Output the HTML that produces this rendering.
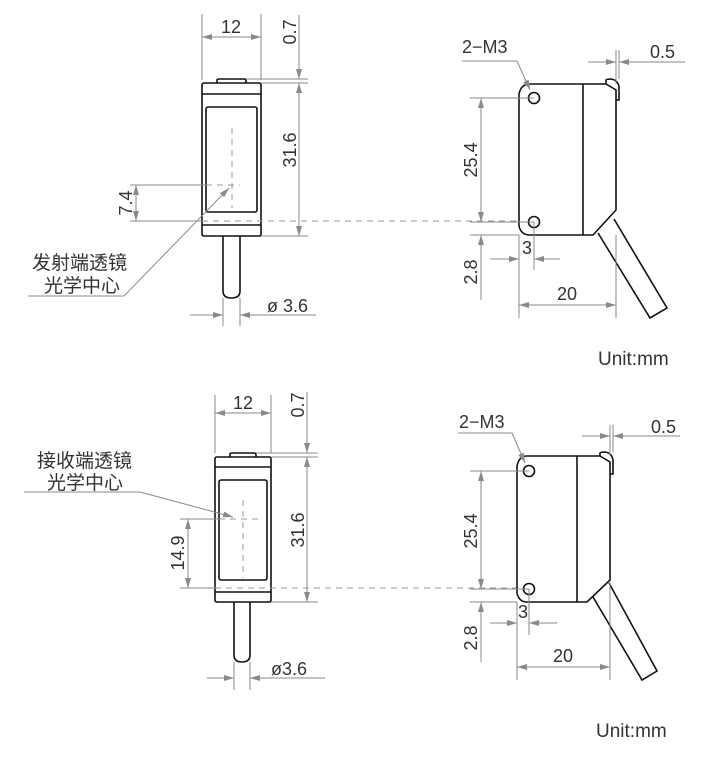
<!DOCTYPE html>
<html><head><meta charset="utf-8"><style>
html,body{margin:0;padding:0;background:#fff}
svg{display:block}
text{font-family:"Liberation Sans","Noto Sans CJK SC",sans-serif;fill:#333;font-size:18px}
.cj{font-size:19px}
.u{font-size:19px}
.d{stroke:#8a8a8a;stroke-width:1;fill:none}
.k{stroke:#111;stroke-width:1.6;fill:none}
.ds{stroke:#999;stroke-width:1;fill:none;stroke-dasharray:6,5}
</style></head><body>
<svg width="723" height="759" viewBox="0 0 723 759" xmlns="http://www.w3.org/2000/svg">
<defs>
<marker id="a" viewBox="0 0 10 6" refX="10" refY="3" markerWidth="10" markerHeight="6" markerUnits="userSpaceOnUse" orient="auto-start-reverse"><path d="M0,0 L10,3 L0,6 Z" fill="#8a8a8a"/></marker>
</defs>

<!-- ========== TOP LEFT ========== -->
<path class="k" d="M204 83 L259 83 Q261 83 261 85 L261 234 Q261 236 259 236 L204 236 Q202 236 202 234 L202 85 Q202 83 204 83 Z"/>
<path class="k" d="M217 83 L217 80 Q217 79 219 79 L244 79 Q246 79 246 81 L246 83"/>
<line class="k" x1="202" y1="94" x2="261" y2="94"/>
<line class="k" x1="202" y1="225" x2="261" y2="225"/>
<rect class="k" x="206" y="107" width="51" height="105" rx="2"/>
<path class="k" d="M223 236 L223 291 Q223 298 231.5 298 Q240 298 240 291 L240 236"/>
<line class="ds" x1="232" y1="128" x2="232" y2="208"/>
<line class="d" x1="130" y1="185" x2="206" y2="185"/>
<line class="ds" x1="206" y1="185" x2="240" y2="185"/>
<line class="d" x1="130" y1="221" x2="202" y2="221"/>
<line class="ds" x1="202" y1="221" x2="520" y2="221"/>
<line class="d" x1="202" y1="14" x2="202" y2="80"/>
<line class="d" x1="261" y1="14" x2="261" y2="80"/>
<line class="d" x1="202" y1="37" x2="261" y2="37" marker-start="url(#a)" marker-end="url(#a)"/>
<text x="231" y="33" text-anchor="middle">12</text>
<line class="d" x1="299" y1="15" x2="299" y2="79" marker-end="url(#a)"/>
<line class="d" x1="299" y1="83" x2="299" y2="236" marker-start="url(#a)" marker-end="url(#a)"/>
<line class="d" x1="246" y1="79" x2="308" y2="79"/>
<line class="d" x1="261" y1="83" x2="308" y2="83"/>
<line class="d" x1="261" y1="236" x2="308" y2="236"/>
<text transform="translate(296,32) rotate(-90)" text-anchor="middle">0.7</text>
<text transform="translate(296,150) rotate(-90)" text-anchor="middle">31.6</text>
<line class="d" x1="136" y1="185" x2="136" y2="221" marker-start="url(#a)" marker-end="url(#a)"/>
<text transform="translate(132,203) rotate(-90)" text-anchor="middle">7.4</text>
<line class="d" x1="28" y1="296" x2="124" y2="296"/>
<line class="d" x1="124" y1="296" x2="229" y2="188" marker-end="url(#a)"/>
<text class="cj" x="32" y="269">发射端透镜</text>
<text class="cj" x="44" y="292">光学中心</text>
<line class="d" x1="223" y1="298" x2="223" y2="326"/>
<line class="d" x1="240" y1="298" x2="240" y2="326"/>
<line class="d" x1="190" y1="315" x2="223" y2="315" marker-end="url(#a)"/>
<line class="d" x1="316" y1="315" x2="240" y2="315" marker-end="url(#a)"/>
<text x="267" y="312">ø 3.6</text>

<!-- ========== TOP RIGHT ========== -->
<path class="k" d="M530 84 L606 84 L616 90 L616 210 L593 235 L530 235 Q521 235 519 226 L519 94 Q521 84 530 84 Z"/>
<path class="k" d="M606 84 L606 80 Q607 79 611 79 Q618 80 619 87 L619 100 L616 100"/>
<line class="k" x1="583" y1="84" x2="583" y2="235"/>
<circle class="k" cx="534" cy="98" r="5.5"/>
<circle class="k" cx="534" cy="222" r="5.5"/>
<path class="k" d="M598 233 L650 318 L667 308 L614 219"/>
<text x="462" y="53">2−M3</text>
<line class="d" x1="462" y1="61" x2="517" y2="61"/>
<line class="d" x1="517" y1="61" x2="530" y2="90" marker-end="url(#a)"/>
<line class="d" x1="616" y1="50" x2="616" y2="84"/>
<line class="d" x1="619" y1="50" x2="619" y2="79"/>
<line class="d" x1="588" y1="62" x2="616" y2="62" marker-end="url(#a)"/>
<line class="d" x1="685" y1="62" x2="619" y2="62" marker-end="url(#a)"/>
<text x="650" y="58">0.5</text>
<line class="d" x1="470" y1="98" x2="534" y2="98"/>
<line class="d" x1="470" y1="222" x2="534" y2="222"/>
<line class="d" x1="481" y1="98" x2="481" y2="222" marker-start="url(#a)" marker-end="url(#a)"/>
<text transform="translate(477,160) rotate(-90)" text-anchor="middle">25.4</text>
<line class="d" x1="470" y1="235" x2="519" y2="235"/>
<line class="d" x1="481" y1="235" x2="481" y2="300" marker-start="url(#a)"/>
<text transform="translate(477,272) rotate(-90)" text-anchor="middle">2.8</text>
<line class="d" x1="534" y1="222" x2="534" y2="270"/>
<line class="d" x1="519" y1="235" x2="519" y2="318"/>
<line class="d" x1="490" y1="259" x2="519" y2="259" marker-end="url(#a)"/>
<line class="d" x1="560" y1="259" x2="534" y2="259" marker-end="url(#a)"/>
<text x="527" y="254" text-anchor="middle">3</text>
<line class="d" x1="616" y1="235" x2="616" y2="318"/>
<line class="d" x1="519" y1="305" x2="616" y2="305" marker-start="url(#a)" marker-end="url(#a)"/>
<text x="567" y="300" text-anchor="middle">20</text>
<text class="u" x="598" y="365">Unit:mm</text>

<!-- ========== BOTTOM LEFT ========== -->
<path class="k" d="M217 457 L269 457 Q271 457 271 459 L271 600 Q271 602 269 602 L217 602 Q215 602 215 600 L215 459 Q215 457 217 457 Z"/>
<path class="k" d="M230 457 L230 454 Q230 453 232 453 L254 453 Q256 453 256 455 L256 457"/>
<line class="k" x1="215" y1="467" x2="271" y2="467"/>
<line class="k" x1="215" y1="592" x2="271" y2="592"/>
<rect class="k" x="219" y="480" width="48" height="100" rx="2"/>
<path class="k" d="M234 602 L234 655 Q234 662 242 662 Q250 662 250 655 L250 602"/>
<line class="ds" x1="243" y1="500" x2="243" y2="578"/>
<line class="d" x1="180" y1="519" x2="219" y2="519"/>
<line class="ds" x1="219" y1="519" x2="260" y2="519"/>
<line class="d" x1="180" y1="588" x2="215" y2="588"/>
<line class="ds" x1="215" y1="588" x2="520" y2="588"/>
<line class="d" x1="215" y1="395" x2="215" y2="453"/>
<line class="d" x1="271" y1="395" x2="271" y2="453"/>
<line class="d" x1="215" y1="413" x2="271" y2="413" marker-start="url(#a)" marker-end="url(#a)"/>
<text x="243" y="409" text-anchor="middle">12</text>
<line class="d" x1="307" y1="392" x2="307" y2="453" marker-end="url(#a)"/>
<line class="d" x1="307" y1="457" x2="307" y2="602" marker-start="url(#a)" marker-end="url(#a)"/>
<line class="d" x1="256" y1="453" x2="318" y2="453"/>
<line class="d" x1="271" y1="457" x2="318" y2="457"/>
<line class="d" x1="271" y1="602" x2="318" y2="602"/>
<text transform="translate(304,405) rotate(-90)" text-anchor="middle">0.7</text>
<text transform="translate(304,530) rotate(-90)" text-anchor="middle">31.6</text>
<line class="d" x1="188" y1="519" x2="188" y2="588" marker-start="url(#a)" marker-end="url(#a)"/>
<text transform="translate(184,553) rotate(-90)" text-anchor="middle">14.9</text>
<text class="cj" x="37" y="467">接收端透镜</text>
<text class="cj" x="47" y="489">光学中心</text>
<line class="d" x1="24" y1="492" x2="140" y2="492"/>
<line class="d" x1="140" y1="492" x2="233" y2="517" marker-end="url(#a)"/>
<line class="d" x1="234" y1="662" x2="234" y2="690"/>
<line class="d" x1="250" y1="662" x2="250" y2="690"/>
<line class="d" x1="207" y1="678" x2="234" y2="678" marker-end="url(#a)"/>
<line class="d" x1="325" y1="678" x2="250" y2="678" marker-end="url(#a)"/>
<text x="271" y="675">ø3.6</text>

<!-- ========== BOTTOM RIGHT ========== -->
<path class="k" d="M527 456 L600 456 L610 462 L610 580 L587 602 L527 602 Q519 602 517 593 L517 466 Q519 456 527 456 Z"/>
<path class="k" d="M600 456 L600 453 Q601 452 605 452 Q612 453 613 460 L613 474 L610 474"/>
<line class="k" x1="577" y1="456" x2="577" y2="602"/>
<circle class="k" cx="529" cy="471" r="5.5"/>
<circle class="k" cx="529" cy="589" r="5.5"/>
<path class="k" d="M593 597 L642 680 L657 671 L609 583"/>
<text x="459" y="428">2−M3</text>
<line class="d" x1="458" y1="433" x2="512" y2="433"/>
<line class="d" x1="512" y1="433" x2="525" y2="463" marker-end="url(#a)"/>
<line class="d" x1="610" y1="425" x2="610" y2="456"/>
<line class="d" x1="613" y1="425" x2="613" y2="452"/>
<line class="d" x1="582" y1="436" x2="610" y2="436" marker-end="url(#a)"/>
<line class="d" x1="680" y1="436" x2="613" y2="436" marker-end="url(#a)"/>
<text x="651" y="433">0.5</text>
<line class="d" x1="470" y1="471" x2="529" y2="471"/>
<line class="d" x1="470" y1="589" x2="529" y2="589"/>
<line class="d" x1="481" y1="471" x2="481" y2="589" marker-start="url(#a)" marker-end="url(#a)"/>
<text transform="translate(477,531) rotate(-90)" text-anchor="middle">25.4</text>
<line class="d" x1="470" y1="602" x2="517" y2="602"/>
<line class="d" x1="481" y1="602" x2="481" y2="662" marker-start="url(#a)"/>
<text transform="translate(477,638) rotate(-90)" text-anchor="middle">2.8</text>
<line class="d" x1="529" y1="589" x2="529" y2="635"/>
<line class="d" x1="517" y1="602" x2="517" y2="680"/>
<line class="d" x1="490" y1="623" x2="517" y2="623" marker-end="url(#a)"/>
<line class="d" x1="557" y1="623" x2="529" y2="623" marker-end="url(#a)"/>
<text x="523" y="618" text-anchor="middle">3</text>
<line class="d" x1="610" y1="582" x2="610" y2="680"/>
<line class="d" x1="517" y1="667" x2="610" y2="667" marker-start="url(#a)" marker-end="url(#a)"/>
<text x="563" y="662" text-anchor="middle">20</text>
<text class="u" x="596" y="737">Unit:mm</text>
</svg>
</body></html>
